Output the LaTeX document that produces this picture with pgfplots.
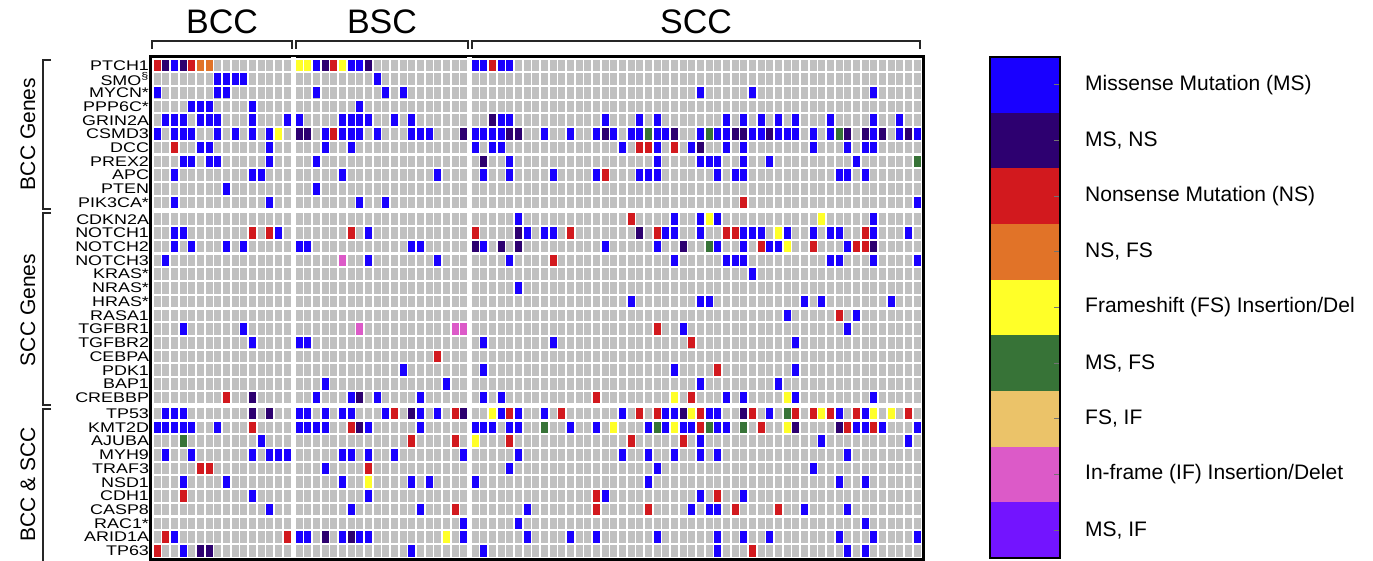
\documentclass[border=0pt]{standalone}
\usepackage{pgfplots}
\pgfplotsset{compat=1.18}
\usepackage{fontspec}
\setmainfont{Liberation Sans}
\definecolor{msblue}{RGB}{25,0,255}
\definecolor{msns}{RGB}{45,0,112}
\definecolor{nsred}{RGB}{210,25,30}
\definecolor{nsfs}{RGB}{225,115,40}
\definecolor{fsyel}{RGB}{255,255,40}
\definecolor{msfs}{RGB}{55,115,55}
\definecolor{fsif}{RGB}{235,195,105}
\definecolor{ifpink}{RGB}{220,90,200}
\definecolor{msif}{RGB}{115,20,255}
\definecolor{cellgray}{RGB}{192,192,192}
\pgfdeclareplotmark{cell}{\pgfpathrectangle{\pgfpoint{-3.5pt}{-5.75pt}}{\pgfpoint{7pt}{11.5pt}}\pgfusepath{fill}}
\begin{document}
\begin{tikzpicture}
\useasboundingbox (0pt,0pt) rectangle (1373pt,-561pt);
\begin{axis}[at={(536.75pt,-308pt)}, anchor=center, scale only axis,
  width=772.5pt, height=503pt,
  xmin=-0.773, xmax=88.36, ymin=-0.64, ymax=36.0, y dir=reverse,
  axis line style={line width=3pt, black},
  axis background/.style={fill=cellgray},
  xtick={-0.5,0.5,...,14.5,16.88,17.88,...,34.88,37.2,38.2,...,88.2},
  xticklabels={},
  xmajorgrids=true,
  major x grid style={white, line width=1.67pt},
  ytick={0,1,2,3,4,5,6,7,8,9,10,11.21,12.21,13.21,14.21,15.21,16.21,17.21,18.21,19.21,20.21,21.21,22.21,23.21,24.21,25.37,26.37,27.37,28.37,29.37,30.37,31.37,32.37,33.37,34.37,35.37},
  yticklabels={PTCH1,SMO\textsuperscript{\S},MYCN*,PPP6C*,GRIN2A,CSMD3,DCC,PREX2,APC,PTEN,PIK3CA*,CDKN2A,NOTCH1,NOTCH2,NOTCH3,KRAS*,NRAS*,HRAS*,RASA1,TGFBR1,TGFBR2,CEBPA,PDK1,BAP1,CREBBP,TP53,KMT2D,AJUBA,MYH9,TRAF3,NSD1,CDH1,CASP8,RAC1*,ARID1A,TP63},
  minor ytick={-0.5,0.5,...,9.5,11.71,12.71,...,23.71,25.87,26.87,...,35.87},
  yminorgrids=true,
  minor y grid style={white, line width=2.2pt},
  major tick length=0pt, minor tick length=0pt,
  tick style={draw=none},
  yticklabel style={font=\fontsize{14}{14}\selectfont, xscale=1.28, inner sep=1pt},
  x filter/.expression={x+0.38*(x>15)+0.32*(x>35)},
  y filter/.expression={y+0.21*(y>10)+0.16*(y>24)},
  clip=true,
]
\draw[white, line width=5pt] (axis cs:15.69,-0.6) -- (axis cs:15.69,35.89);
\draw[white, line width=4.5pt] (axis cs:36.04,-0.6) -- (axis cs:36.04,35.89);
\draw[white, line width=5pt] (axis cs:-0.6,10.605) -- (axis cs:88.19,10.605);
\draw[white, line width=4.5pt] (axis cs:-0.6,24.79) -- (axis cs:88.19,24.79);
% Missense (MS)
\addplot[only marks, mark=cell, color=msblue] coordinates {
(2,0)(18,0)(22,0)(23,0)(36,0)(37,0)(39,0)(40,0)
(7,1)(8,1)(9,1)(10,1)(25,1)
(0,2)(7,2)(8,2)(18,2)(26,2)(28,2)(62,2)(68,2)(82,2)
(4,3)(5,3)(6,3)(11,3)(23,3)
(1,4)(2,4)(3,4)(5,4)(6,4)(7,4)(11,4)(15,4)(16,4)(21,4)(22,4)(23,4)(24,4)(27,4)(29,4)(39,4)(40,4)(51,4)(55,4)(57,4)(65,4)(67,4)(69,4)(71,4)(73,4)(77,4)(82,4)(85,4)
(0,5)(2,5)(3,5)(4,5)(7,5)(9,5)(11,5)(13,5)(19,5)(21,5)(22,5)(23,5)(25,5)(29,5)(30,5)(31,5)(36,5)(37,5)(38,5)(39,5)(44,5)(47,5)(50,5)(52,5)(54,5)(55,5)(57,5)(58,5)(62,5)(64,5)(65,5)(68,5)(69,5)(71,5)(72,5)(73,5)(75,5)(77,5)(82,5)(85,5)(87,5)
(5,6)(6,6)(13,6)(19,6)(22,6)(36,6)(38,6)(39,6)(53,6)(57,6)(61,6)(65,6)(67,6)(75,6)(79,6)(81,6)(82,6)
(3,7)(4,7)(6,7)(7,7)(13,7)(18,7)(40,7)(57,7)(62,7)(63,7)(64,7)(67,7)(70,7)(80,7)
(2,8)(11,8)(12,8)(21,8)(32,8)(37,8)(40,8)(45,8)(50,8)(55,8)(56,8)(57,8)(64,8)(66,8)(67,8)(78,8)(79,8)(81,8)
(8,9)(18,9)
(2,10)(13,10)(23,10)(26,10)(87,10)
(41,11)(59,11)(62,11)(64,11)(82,11)
(2,12)(3,12)(14,12)(24,12)(42,12)(44,12)(45,12)(58,12)(59,12)(62,12)(67,12)(68,12)(69,12)(72,12)(75,12)(77,12)(78,12)(82,12)(86,12)
(2,13)(4,13)(8,13)(10,13)(16,13)(17,13)(29,13)(30,13)(37,13)(51,13)(57,13)(64,13)(67,13)(70,13)(71,13)(79,13)
(1,14)(24,14)(32,14)(40,14)(59,14)(65,14)(66,14)(67,14)(77,14)(78,14)(82,14)(87,14)
(68,15)
(41,16)
(54,17)(62,17)(63,17)(74,17)(76,17)(84,17)
(72,18)(80,18)
(3,19)(10,19)(60,19)(79,19)
(11,20)(16,20)(17,20)(37,20)(45,20)(73,20)
(28,22)(37,22)(59,22)(73,22)
(19,23)(33,23)(62,23)(71,23)
(18,24)(22,24)(25,24)(30,24)(37,24)(39,24)(65,24)(67,24)(73,24)(82,24)
(1,25)(2,25)(3,25)(16,25)(17,25)(19,25)(21,25)(22,25)(26,25)(30,25)(32,25)(39,25)(41,25)(44,25)(53,25)(58,25)(59,25)(63,25)(64,25)(70,25)(78,25)(81,25)
(0,26)(1,26)(2,26)(3,26)(4,26)(7,26)(16,26)(17,26)(18,26)(19,26)(24,26)(30,26)(36,26)(37,26)(38,26)(40,26)(41,26)(47,26)(50,26)(56,26)(58,26)(60,26)(61,26)(64,26)(65,26)(80,26)(81,26)(83,26)(87,26)
(12,27)(62,27)(76,27)(86,27)
(1,28)(4,28)(11,28)(13,28)(14,28)(15,28)(21,28)(22,28)(24,28)(27,28)(35,28)(41,28)(53,28)(56,28)(59,28)(62,28)(64,28)(79,28)
(19,29)(40,29)(57,29)(75,29)
(3,30)(8,30)(21,30)(29,30)(31,30)(36,30)(56,30)(78,30)(81,30)
(11,31)(24,31)(51,31)(62,31)(67,31)
(13,32)(22,32)(30,32)(42,32)(61,32)(63,32)(64,32)(74,32)(79,32)
(35,33)(41,33)(81,33)
(2,34)(16,34)(17,34)(21,34)(23,34)(24,34)(35,34)(42,34)(47,34)(50,34)(57,34)(64,34)(67,34)(70,34)(78,34)(82,34)(87,34)
(3,35)(29,35)(37,35)(64,35)(79,35)(81,35)
};
% MS, NS
\addplot[only marks, mark=cell, color=msns] coordinates {
(1,0)(3,0)(19,0)(24,0)(38,4)(16,5)(17,5)(35,5)(40,5)(41,5)(51,5)(59,5)(66,5)(67,5)(70,5)(79,5)(81,5)(83,5)(86,5)(62,6)(37,7)(41,12)(55,12)(36,13)(39,13)(41,13)(60,13)(82,13)(11,24)(23,24)(11,25)(13,25)(29,25)(35,25)(60,25)(67,25)(23,26)(73,26)(78,26)(19,34)(22,34)(5,35)(6,35)
};
% Nonsense (NS)
\addplot[only marks, mark=cell, color=nsred] coordinates {
(0,0)(4,0)(20,0)(38,0)(20,5)(2,6)(55,6)(56,6)(59,6)(51,8)(67,10)(54,11)(11,12)(13,12)(22,12)(36,12)(47,12)(57,12)(65,12)(66,12)(81,12)(69,13)(75,13)(80,13)(81,13)(45,14)(78,18)(57,19)(61,20)(32,21)(64,22)(8,24)(50,24)(61,24)(27,25)(34,25)(40,25)(46,25)(55,25)(57,25)(62,25)(68,25)(73,25)(75,25)(77,25)(80,25)(86,25)(11,26)(22,26)(62,26)(69,26)(79,26)(82,26)(29,27)(34,27)(40,27)(54,27)(60,27)(5,29)(6,29)(24,29)(3,31)(50,31)(64,31)(34,32)(50,32)(56,32)(66,32)(71,32)(1,34)(15,34)(0,35)(68,35)
};
% NS, FS
\addplot[only marks, mark=cell, color=nsfs] coordinates {(5,0)(6,0)};
% FS
\addplot[only marks, mark=cell, color=fsyel] coordinates {
(16,0)(17,0)(21,0)(14,5)(63,11)(76,11)(71,12)(72,13)(59,24)(72,24)(38,25)(61,25)(76,25)(82,25)(84,25)(52,26)(59,26)(72,26)(36,27)(24,30)(33,34)
};
% MS, FS
\addplot[only marks, mark=cell, color=msfs] coordinates {
(56,5)(63,5)(78,5)(87,7)(63,13)(72,25)(44,26)(57,26)(63,26)(67,26)(3,27)
};
% IF
\addplot[only marks, mark=cell, color=ifpink] coordinates {(21,14)(23,19)(34,19)(35,19)};
\end{axis}
% top group labels and brackets
\begin{scope}[line width=1.5pt, black!85]
\draw (152pt,-49pt) -- (152pt,-41pt) -- (292pt,-41pt) -- (292pt,-49pt);
\draw (296pt,-49pt) -- (296pt,-41pt) -- (468pt,-41pt) -- (468pt,-49pt);
\draw (472pt,-49pt) -- (472pt,-41pt) -- (920pt,-41pt) -- (920pt,-49pt);
\draw (51pt,-60pt) -- (43pt,-60pt) -- (43pt,-209pt) -- (51pt,-209pt);
\draw (51pt,-213pt) -- (43pt,-213pt) -- (43pt,-405pt) -- (51pt,-405pt);
\draw (51pt,-409pt) -- (43pt,-409pt) -- (43pt,-561pt);
\end{scope}
\node[font=\fontsize{34}{34}\selectfont] at (222pt,-22pt) {BCC};
\node[font=\fontsize{34}{34}\selectfont] at (382pt,-22pt) {BSC};
\node[font=\fontsize{34}{34}\selectfont] at (696pt,-22pt) {SCC};
\node[rotate=90, font=\fontsize{21}{21}\selectfont] at (28pt,-134pt) {BCC Genes};
\node[rotate=90, font=\fontsize{21}{21}\selectfont] at (28pt,-310pt) {SCC Genes};
\node[rotate=90, font=\fontsize{21}{21}\selectfont] at (28pt,-484pt) {BCC \& SCC};
% legend colour bar
\foreach \c [count=\i from 0] in {msblue,msns,nsred,nsfs,fsyel,msfs,fsif,ifpink,msif}
  \fill[\c] (990pt,{-57pt-\i*55.67pt}) rectangle (1060pt,{-57pt-(\i+1)*55.67pt});
\foreach \i in {0,...,8}
  \draw[line width=0.8pt, black!55] (1054pt,{-57pt-(\i+0.5)*55.67pt}) -- (1060pt,{-57pt-(\i+0.5)*55.67pt});
\draw[line width=2pt] (990pt,-57pt) rectangle (1060pt,-558pt);
\foreach \t [count=\i from 0] in {Missense Mutation (MS),{MS, NS},Nonsense Mutation (NS),{NS, FS},Frameshift (FS) Insertion/Del,{MS, FS},{FS, IF},In-frame (IF) Insertion/Delet,{MS, IF}}
  \node[anchor=west, font=\fontsize{21}{21}\selectfont, inner sep=0pt] at (1085pt,{-57pt-(\i+0.5)*55.67pt}) {\t};
\end{tikzpicture}
\end{document}
